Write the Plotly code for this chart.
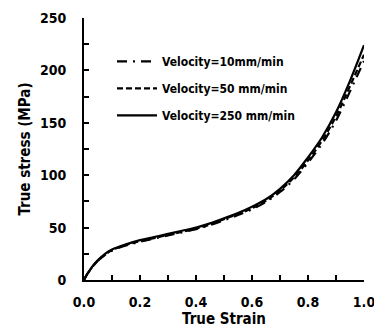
import plotly.graph_objects as go

strain = [0.0, 0.01, 0.02, 0.03, 0.05, 0.075, 0.1, 0.15, 0.2, 0.25, 0.3, 0.35, 0.4, 0.45,
          0.5, 0.55, 0.6, 0.65, 0.7, 0.75, 0.8, 0.85, 0.9, 0.95, 1.0]
stress_10 = [0, 5, 9, 12.5, 18.5, 24, 28, 33, 36.5, 39.5, 42.5, 45.5, 48.5, 52.5,
             57, 62, 67.5, 74.5, 84, 96, 112, 130, 152, 180, 209]
stress_50 = [0, 5, 9, 12.5, 18.5, 24, 28.5, 33.5, 37, 40, 43, 46, 49, 53,
             58, 63, 68.5, 75.5, 85.5, 98, 114, 133, 156, 185, 215]
stress_250 = [0, 5, 9, 13, 19, 25, 29, 34, 38, 41, 44, 47, 50, 54,
              59, 64, 70, 77, 87, 100, 117, 136, 160, 190, 224]

names = ["Velocity=10mm/min", "Velocity=50 mm/min", "Velocity=250 mm/min"]
series = [stress_10, stress_50, stress_250]
dashes = ["10px,6px,2px,6px", "6px,3px", "solid"]

FONT = "DejaVu Sans Condensed"
TICKFONT = dict(family=FONT, size=14, color="black", weight="bold")
TITLEFONT = dict(family=FONT, size=15, color="black", weight="bold")

fig = go.Figure()
for i, (n, s, d) in enumerate(zip(names, series, dashes)):
    on2 = (i == 2)
    fig.add_trace(go.Scatter(x=strain, y=s, mode="lines", name=n, legendgroup=f"g{i}",
                             xaxis="x2" if on2 else "x", yaxis="y2" if on2 else "y",
                             line=dict(color="black", width=2.2, dash=d, shape="spline")))

# primary axes: line + inside ticks, no labels
base = dict(showline=True, linecolor="black", linewidth=2, showgrid=False, zeroline=False,
            ticks="inside", ticklen=5, tickwidth=1.5, tickcolor="black",
            automargin=False, showticklabels=False)
fig.update_layout(
    xaxis=dict(range=[0, 1], dtick=0.2, tick0=0,
               minor=dict(dtick=0.1, ticks="inside", ticklen=5, tickcolor="black", tickwidth=1.5),
               **base),
    yaxis=dict(range=[0, 250], dtick=50, tick0=0,
               minor=dict(dtick=25, ticks="inside", ticklen=5, tickcolor="black", tickwidth=1.5),
               **base),
    # overlay axes: carry the labels and titles, pushed off by invisible outside ticks
    xaxis2=dict(overlaying="x", matches="x", side="bottom", range=[0, 1], dtick=0.2, tick0=0,
                tickformat=".1f", showline=False, showgrid=False, zeroline=False,
                ticks="outside", ticklen=9, tickcolor="rgba(0,0,0,0)",
                automargin=False, ticklabeloverflow="allow", tickfont=TICKFONT,
                title=dict(text="True Strain", font=TITLEFONT, standoff=2)),
    yaxis2=dict(overlaying="y", matches="y", side="left", range=[0, 250], dtick=50, tick0=0,
                showline=False, showgrid=False, zeroline=False,
                ticks="outside", ticklen=14, tickcolor="rgba(0,0,0,0)",
                automargin=False, ticklabeloverflow="allow", tickfont=TICKFONT,
                title=dict(text="True stress (MPa)", font=TITLEFONT, standoff=5)),
    width=374, height=336,
    margin=dict(l=84, r=10, t=18, b=56),
    plot_bgcolor="white", paper_bgcolor="white",
    legend=dict(x=0.1, y=0.89, xanchor="left", yanchor="top", bgcolor="rgba(0,0,0,0)",
                font=dict(family=FONT, size=12, color="black", weight="bold"),
                tracegroupgap=8, itemwidth=40),
    showlegend=True,
)

fig.write_html("out.html")
